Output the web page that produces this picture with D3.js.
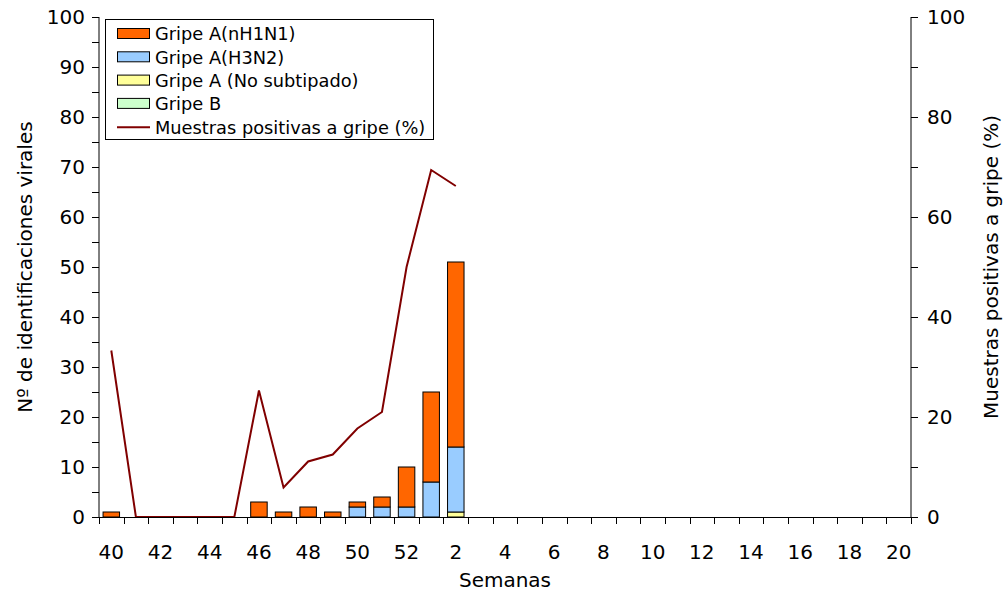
<!DOCTYPE html>
<html><head><meta charset="utf-8">
<script src="https://cdn.jsdelivr.net/npm/d3@7"></script>
<style>body{margin:0;background:#fff}svg{display:block}text{font-family:"DejaVu Sans",Verdana,sans-serif;fill:#000}</style>
</head><body><svg id="c" width="1006" height="595"></svg>
<script>
const weeks = [40,41,42,43,44,45,46,47,48,49,50,51,52,1,2,3,4,5,6,7,8,9,10,11,12,13,14,15,16,17,18,19,20];
const h1n1   = [1,0,0,0,0,0,3,1,2,1,1,2,8,18,37];
const h3n2   = [0,0,0,0,0,0,0,0,0,0,2,2,2,7,13];
const noSub  = [0,0,0,0,0,0,0,0,0,0,0,0,0,0,1];
const gripeB = [0,0,0,0,0,0,0,0,0,0,0,0,0,0,0];
const pctPos = [33.3,0,0,0,0,0,25.3,5.9,11.1,12.5,17.7,21.0,50,69.4,66.2];
const seriesNames = ["Gripe A(nH1N1)","Gripe A(H3N2)","Gripe A (No subtipado)","Gripe B"];
const lineName = "Muestras positivas a gripe (%)";
const colors = {"Gripe A(nH1N1)":"#FF6600","Gripe A(H3N2)":"#99CCFF","Gripe A (No subtipado)":"#FFFF99","Gripe B":"#CCFFCC"};
const lineColor = "#800000";
const leftTicks = [0,10,20,30,40,50,60,70,80,90,100];
const rightTicks = [0,20,40,60,80,100];
const xLabelWeeks = [40,42,44,46,48,50,52,2,4,6,8,10,12,14,16,18,20];

const svg = d3.select("#c");
const L=99, R=911, T=17, B=517;
const x = d3.scaleBand().domain(weeks.map(String)).range([L,R]).paddingInner(0.33).paddingOuter(0.165);
const xb = d3.scaleBand().domain(weeks.map(String)).range([L,R]);
const yL = d3.scaleLinear().domain([0,100]).range([B,T]);
const yR = d3.scaleLinear().domain([0,100]).range([B,T]);

// stacked bars: order bottom -> top : Gripe B, No subtipado, H3N2, nH1N1
const rows = h1n1.map((v,i)=>({week:String(weeks[i]),"Gripe A(nH1N1)":v,"Gripe A(H3N2)":h3n2[i],"Gripe A (No subtipado)":noSub[i],"Gripe B":gripeB[i]}));
const stack = d3.stack().keys(["Gripe B","Gripe A (No subtipado)","Gripe A(H3N2)","Gripe A(nH1N1)"])(rows);
svg.append("g").selectAll("g").data(stack).join("g").attr("fill",d=>colors[d.key])
  .selectAll("rect").data(d=>d.filter(p=>p[1]-p[0]>0)).join("rect")
  .attr("x",d=>x(d.data.week)).attr("width",x.bandwidth())
  .attr("y",d=>yL(d[1])).attr("height",d=>yL(d[0])-yL(d[1]))
  .attr("stroke","#000").attr("stroke-width",1);

// line
const lineData = pctPos.map((v,i)=>({week:String(weeks[i]),v}));
svg.append("path").datum(lineData).attr("fill","none").attr("stroke",lineColor).attr("stroke-width",2)
  .attr("d",d3.line().x(d=>xb(d.week)+xb.bandwidth()/2).y(d=>yR(d.v)));

// left axis
const gl = svg.append("g").attr("transform",`translate(${L},0)`);
gl.append("line").attr("y1",T).attr("y2",B).attr("stroke","#000");
gl.selectAll(".mt").data(d3.range(0,101,5)).join("line").attr("x1",-7).attr("x2",0)
  .attr("y1",d=>yL(d)+0.5).attr("y2",d=>yL(d)+0.5).attr("stroke","#000");
gl.selectAll("text").data(leftTicks).join("text").attr("x",-14).attr("y",d=>yL(d)).attr("dy","0.36em")
  .attr("text-anchor","end").attr("font-size",20).text(d=>d);

// right axis
const gr = svg.append("g").attr("transform",`translate(${R},0)`);
gr.append("line").attr("y1",T).attr("y2",B).attr("stroke","#000");
gr.selectAll(".mt").data(d3.range(0,101,10)).join("line").attr("x1",0).attr("x2",7)
  .attr("y1",d=>yR(d)+0.5).attr("y2",d=>yR(d)+0.5).attr("stroke","#000");
gr.selectAll("text").data(rightTicks).join("text").attr("x",16).attr("y",d=>yR(d)).attr("dy","0.36em")
  .attr("text-anchor","start").attr("font-size",20).text(d=>d);

// x axis
const gx = svg.append("g");
gx.append("line").attr("x1",L).attr("x2",R).attr("y1",B+0.5).attr("y2",B+0.5).attr("stroke","#000");
gx.selectAll(".t").data(weeks.map(String).concat(["end"])).join("line")
  .attr("x1",(d,i)=>Math.round(L+i*xb.step())+0.5).attr("x2",(d,i)=>Math.round(L+i*xb.step())+0.5)
  .attr("y1",B).attr("y2",B+7).attr("stroke","#000");
gx.selectAll("text").data(xLabelWeeks).join("text").attr("x",d=>xb(String(d))+xb.bandwidth()/2)
  .attr("y",552).attr("dy","0.36em").attr("text-anchor","middle").attr("font-size",20).text(d=>d);

// titles
svg.append("text").attr("x",505).attr("y",580).attr("dy","0.36em").attr("text-anchor","middle").attr("font-size",20).text("Semanas");
svg.append("text").attr("transform","translate(25,267) rotate(-90)").attr("dy","0.36em").attr("text-anchor","middle").attr("font-size",20).text("Nº de identificaciones virales");
svg.append("text").attr("transform","translate(991,267) rotate(-90)").attr("dy","0.36em").attr("text-anchor","middle").attr("font-size",20).text("Muestras positivas a gripe (%)");

// legend
const lg = svg.append("g");
lg.append("rect").attr("x",105.5).attr("y",19.5).attr("width",328).attr("height",120).attr("fill","#fff").attr("stroke","#000");
const legItems = seriesNames.concat([lineName]);
const ly = i=>34+i*23.3;
legItems.forEach((n,i)=>{
  if(i<4){
    lg.append("rect").attr("x",117.5).attr("y",ly(i)-5.5).attr("width",32).attr("height",10).attr("fill",colors[n]).attr("stroke","#000");
  } else {
    lg.append("line").attr("x1",117).attr("x2",150).attr("y1",ly(i)).attr("y2",ly(i)).attr("stroke",lineColor).attr("stroke-width",2);
  }
  lg.append("text").attr("x",155).attr("y",ly(i)).attr("dy","0.36em").attr("font-size",17.8).text(n);
});
</script></body></html>
